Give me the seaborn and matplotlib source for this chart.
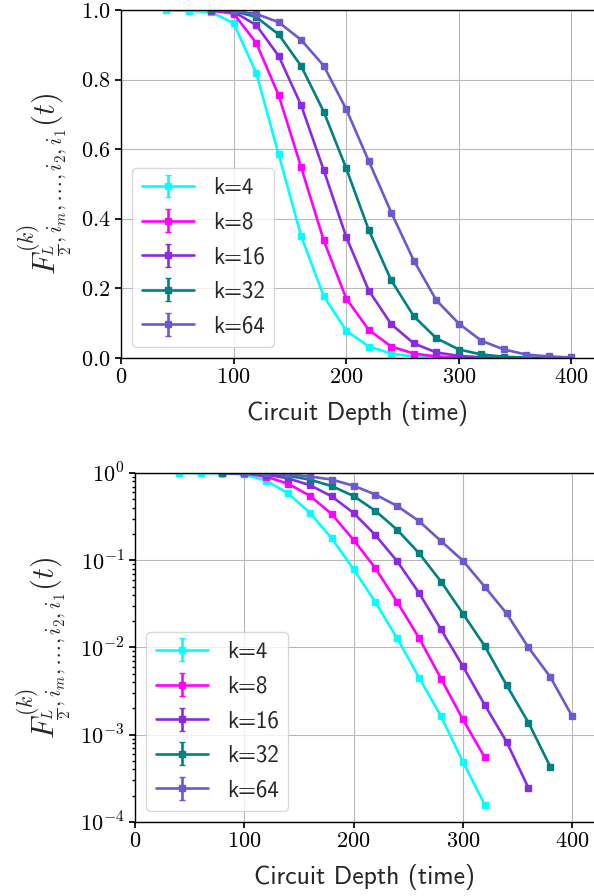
import numpy as np
import seaborn as sns
import matplotlib.pyplot as plt
from matplotlib.ticker import FuncFormatter, LogLocator, NullFormatter

# circuit depth (time) and fidelity curves
depth = [40, 60, 80, 100, 120, 140, 160, 180, 200, 220, 240, 260, 280,
         300, 320, 340, 360, 380, 400]

k4_x = depth[:15]
k4_y = [0.999, 0.998, 0.994, 0.962, 0.82, 0.585, 0.35, 0.178, 0.079, 0.033,
        0.0127, 0.0045, 0.00163, 0.00049, 0.000158]

k8_x = depth[2:15]
k8_y = [0.998, 0.99, 0.906, 0.755, 0.548, 0.338, 0.171, 0.081, 0.033,
        0.0128, 0.0044, 0.0015, 0.00055]

k16_x = depth[2:17]
k16_y = [0.999, 0.995, 0.957, 0.868, 0.726, 0.54, 0.348, 0.194, 0.097,
         0.042, 0.0161, 0.0061, 0.0022, 0.00083, 0.000246]

k32_x = depth[2:18]
k32_y = [1.0, 0.997, 0.98, 0.93, 0.839, 0.708, 0.545, 0.368, 0.223, 0.12,
         0.057, 0.0245, 0.0104, 0.0037, 0.00138, 0.00043]

k64_x = depth[3:19]
k64_y = [0.998, 0.989, 0.965, 0.914, 0.84, 0.715, 0.566, 0.418, 0.28,
         0.166, 0.099, 0.0497, 0.0246, 0.01, 0.0046, 0.00163]

labels = ["k=4", "k=8", "k=16", "k=32", "k=64"]
series = [(k4_x, k4_y), (k8_x, k8_y), (k16_x, k16_y), (k32_x, k32_y), (k64_x, k64_y)]
colors = sns.color_palette(["cyan", "magenta", "blueviolet", "teal", "slateblue"])

sns.set_theme(style="ticks", rc={
    "axes.edgecolor": "black",
    "axes.linewidth": 1.0,
    "xtick.color": "black",
    "ytick.color": "black",
    "xtick.major.size": 4,
    "ytick.major.size": 4,
    "ytick.minor.size": 2,
    "grid.color": "#b8b8b8",
    "grid.linewidth": 0.8,
})
plt.rcParams["mathtext.fontset"] = "cm"
plt.rcParams["font.family"] = ["cmss10", "DejaVu Sans"]

ylab = r"$F^{(k)}_{\frac{L}{2},i_m,\ldots,i_2,i_1}(t)$"
math_int = FuncFormatter(lambda v, p: r"$%d$" % v)

fig = plt.figure(figsize=(5.94, 8.96), dpi=100)
ax1 = fig.add_axes([0.2037, 0.6004, 0.7963, 0.3884])
ax2 = fig.add_axes([0.2273, 0.0826, 0.7727, 0.3895])

for ax in (ax1, ax2):
    for (x, y), lab, c in zip(series, labels, colors):
        ax.errorbar(x, y, yerr=np.zeros(len(y)), color=c, marker="s",
                    markersize=5, lw=1.9, capsize=2.5, elinewidth=1.9,
                    label=lab)
    ax.set_xlim(0, 420)
    ax.set_xticks([0, 100, 200, 300, 400])
    ax.xaxis.set_major_formatter(math_int)
    ax.grid(True)
    ax.spines["right"].set_visible(False)
    ax.tick_params(labelsize=16)
    ax.set_xlabel("Circuit Depth (time)", fontsize=18.5, labelpad=9)
    ax.set_ylabel(ylab, fontsize=22, labelpad=4)
    ax.legend(loc="lower left", fontsize=16.5, handlelength=2.3,
              labelspacing=0.55, framealpha=0.8, edgecolor="#d0d0d0",
              fancybox=True)

ax1.set_ylim(0, 1)
ax1.set_yticks([0.0, 0.2, 0.4, 0.6, 0.8, 1.0])
ax1.yaxis.set_major_formatter(FuncFormatter(lambda v, p: r"$%.1f$" % v))

ax2.set_yscale("log")
ax2.set_ylim(1e-4, 1)
ax2.yaxis.set_major_locator(LogLocator(base=10, numticks=10))
ax2.yaxis.set_minor_locator(LogLocator(base=10, subs=np.arange(2, 10), numticks=10))
ax2.yaxis.set_major_formatter(FuncFormatter(lambda v, p: r"$10^{%d}$" % round(np.log10(v))))
ax2.yaxis.set_minor_formatter(NullFormatter())

fig.savefig("out.png", dpi=100)
